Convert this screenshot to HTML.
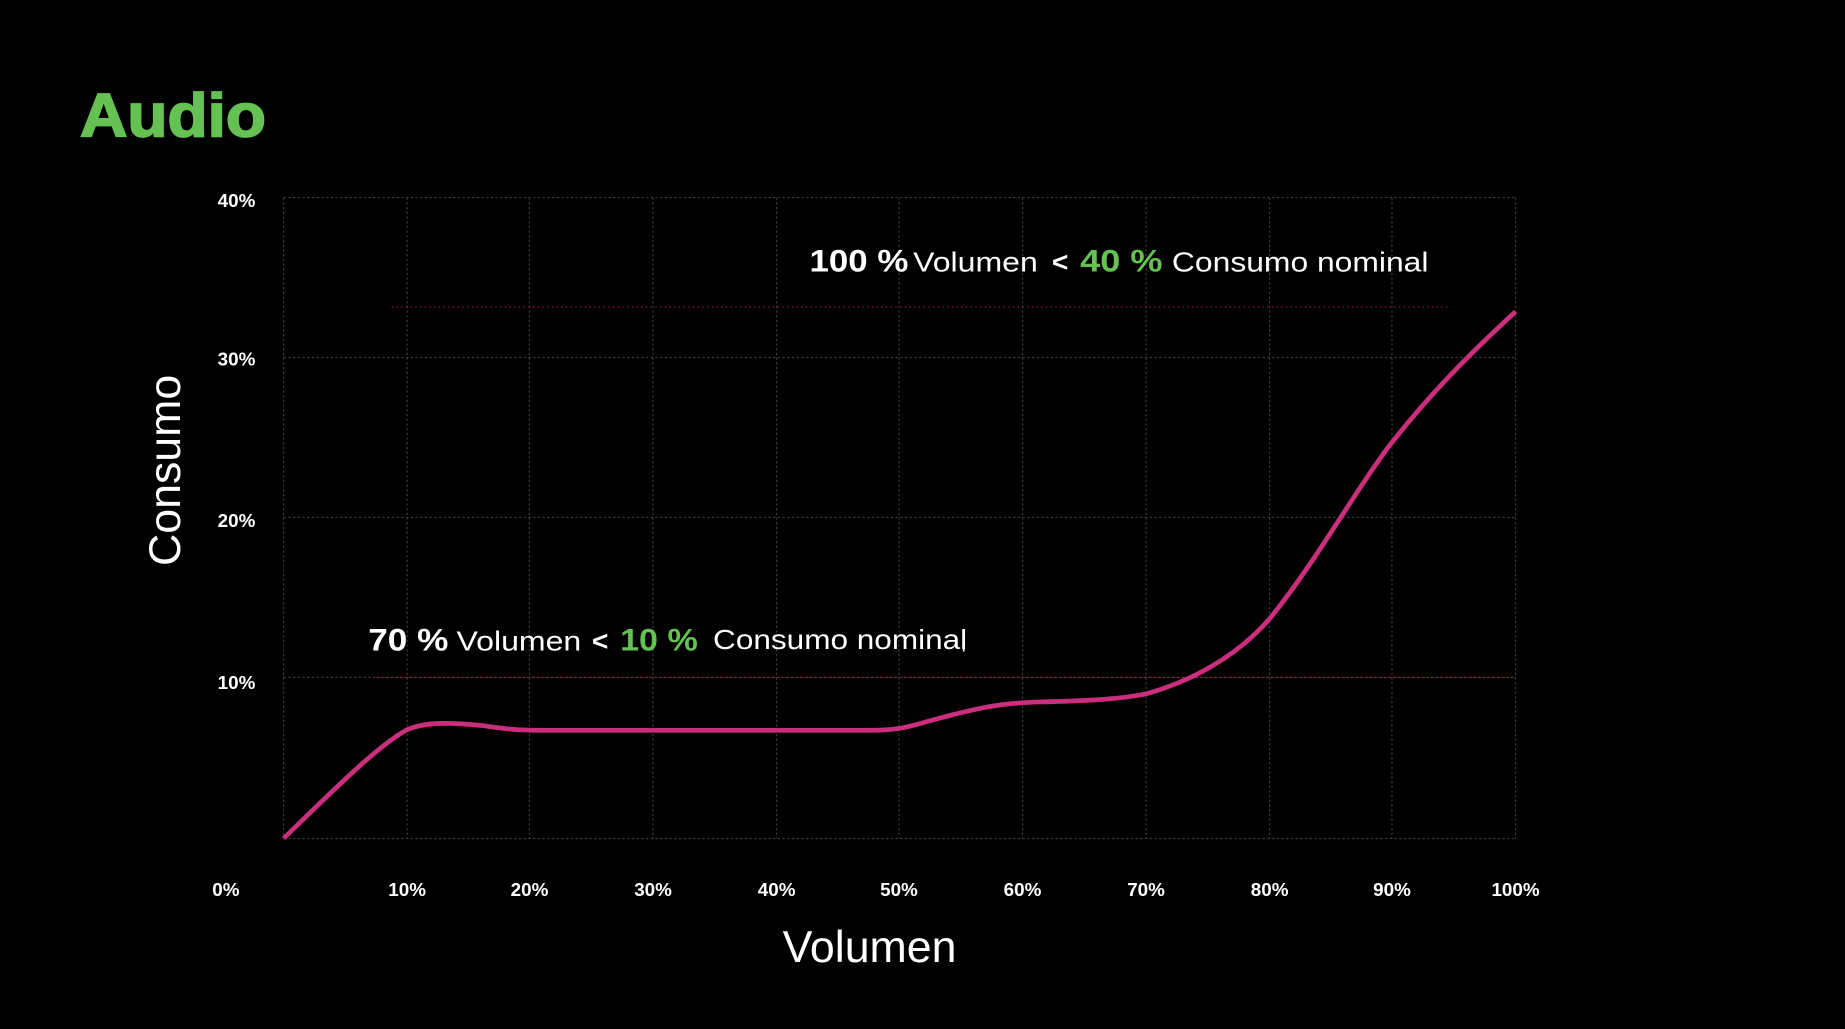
<!DOCTYPE html>
<html><head><meta charset="utf-8"><style>
html,body{margin:0;padding:0;background:#000;width:1845px;height:1029px;overflow:hidden}
svg{display:block}
text{font-family:"Liberation Sans",sans-serif;fill:#fff}
</style></head><body>
<svg width="1845" height="1029" viewBox="0 0 1568 875" preserveAspectRatio="none">
<rect width="1568" height="875" fill="#000"/>
<text x="68" y="116" font-size="52" font-weight="bold" style="fill:#65c152;stroke:#65c152;stroke-width:1.5" textLength="158" lengthAdjust="spacingAndGlyphs">Audio</text>
<g stroke="#3a3a3a" stroke-width="1" stroke-dasharray="2,2" fill="none">
<line x1="241" y1="168" x2="1288" y2="168"/>
<line x1="241" y1="304" x2="1288" y2="304"/>
<line x1="241" y1="440" x2="1288" y2="440"/>
<line x1="241" y1="576" x2="1288" y2="576"/>
<line x1="241" y1="713" x2="1288" y2="713"/>
<line x1="241" y1="168" x2="241" y2="713"/>
<line x1="346" y1="168" x2="346" y2="713"/>
<line x1="450" y1="168" x2="450" y2="713"/>
<line x1="555" y1="168" x2="555" y2="713"/>
<line x1="660" y1="168" x2="660" y2="713"/>
<line x1="764" y1="168" x2="764" y2="713"/>
<line x1="869" y1="168" x2="869" y2="713"/>
<line x1="974" y1="168" x2="974" y2="713"/>
<line x1="1079" y1="168" x2="1079" y2="713"/>
<line x1="1183" y1="168" x2="1183" y2="713"/>
<line x1="1288" y1="168" x2="1288" y2="713"/>
</g>
<g stroke="#c0202a" stroke-width="1" stroke-dasharray="1,3">
<line x1="333" y1="261" x2="1232" y2="261"/>
<line x1="320" y1="576" x2="1288" y2="576"/>
</g>
<path d="M241,713 C280,675 320,635 345,621 C360,614 380,614 410,617 C430,620 440,621 460,621 L740,621 C760,621 770,619 790,613 C830,602 850,598 880,597 C930,596 955,594 974,590 C1010,580 1050,560 1080,525 C1120,475 1150,420 1180,380 C1215,335 1250,300 1288,265" fill="none" stroke="#cc2e7e" stroke-width="4"/>
<g font-size="16" font-weight="bold" text-anchor="middle">
<text x="201" y="176">40%</text>
<text x="201" y="311">30%</text>
<text x="201" y="448">20%</text>
<text x="201" y="586">10%</text>
<text x="192" y="762">0%</text>
<text x="346" y="762">10%</text>
<text x="450" y="762">20%</text>
<text x="555" y="762">30%</text>
<text x="660" y="762">40%</text>
<text x="764" y="762">50%</text>
<text x="869" y="762">60%</text>
<text x="974" y="762">70%</text>
<text x="1079" y="762">80%</text>
<text x="1183" y="762">90%</text>
<text x="1288" y="762">100%</text>
</g>
<text x="739" y="818" font-size="38" text-anchor="middle">Volumen</text>
<text transform="translate(153,400) rotate(-90)" font-size="38" text-anchor="middle">Consumo</text>
<text x="688" y="231" font-size="27" font-weight="bold" textLength="84" lengthAdjust="spacingAndGlyphs">100 %</text>
<text x="776" y="231" font-size="24" textLength="106" lengthAdjust="spacingAndGlyphs">Volumen</text>
<text x="894" y="231" font-size="24" font-weight="bold">&lt;</text>
<text x="918" y="231" font-size="27" font-weight="bold" style="fill:#65c152" textLength="70" lengthAdjust="spacingAndGlyphs">40 %</text>
<text x="996" y="231" font-size="24" textLength="218" lengthAdjust="spacingAndGlyphs">Consumo nominal</text>
<text x="313" y="553" font-size="27" font-weight="bold" textLength="68" lengthAdjust="spacingAndGlyphs">70 %</text>
<text x="388" y="553" font-size="24" textLength="106" lengthAdjust="spacingAndGlyphs">Volumen</text>
<text x="503" y="553" font-size="24" font-weight="bold">&lt;</text>
<text x="527" y="553" font-size="27" font-weight="bold" style="fill:#65c152" textLength="66" lengthAdjust="spacingAndGlyphs">10 %</text>
<text x="606" y="552" font-size="24" textLength="216" lengthAdjust="spacingAndGlyphs">Consumo nominal</text>
<line x1="819" y1="535" x2="819" y2="554" stroke="#fff" stroke-width="1.5"/>
</svg>
</body></html>
